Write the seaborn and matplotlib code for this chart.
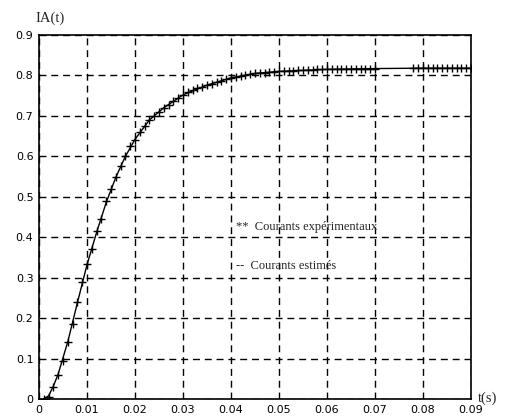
import matplotlib
matplotlib.use("Agg")
import matplotlib.pyplot as plt
import seaborn as sns
import pandas as pd

# Experimental currents (markers)
t_exp = [0.001, 0.002, 0.003, 0.004, 0.005, 0.006, 0.007, 0.008, 0.009, 0.010,
         0.011, 0.012, 0.013, 0.014, 0.015, 0.016, 0.017, 0.018, 0.019, 0.020,
         0.021, 0.022, 0.023, 0.024, 0.025, 0.026, 0.027, 0.028, 0.029, 0.030,
         0.031, 0.032, 0.033, 0.034, 0.035, 0.036, 0.037, 0.038, 0.039, 0.040,
         0.041, 0.042, 0.043, 0.044, 0.045, 0.046, 0.047, 0.048, 0.049, 0.050,
         0.051, 0.052, 0.053, 0.054, 0.055, 0.056, 0.057, 0.058, 0.059, 0.060,
         0.061, 0.062, 0.063, 0.064, 0.065, 0.066, 0.067, 0.068, 0.069, 0.070,
         0.078, 0.079, 0.080, 0.081, 0.082, 0.083, 0.084, 0.085, 0.086, 0.087,
         0.088, 0.089, 0.090]
i_exp = [0.000, 0.005, 0.030, 0.060, 0.095, 0.140, 0.185, 0.240, 0.290, 0.335,
         0.370, 0.415, 0.445, 0.490, 0.520, 0.550, 0.575, 0.600, 0.625, 0.640,
         0.660, 0.675, 0.690, 0.700, 0.710, 0.720, 0.728, 0.737, 0.745, 0.752,
         0.758, 0.763, 0.768, 0.772, 0.776, 0.779, 0.783, 0.786, 0.790, 0.794,
         0.797, 0.799, 0.801, 0.803, 0.805, 0.806, 0.807, 0.808, 0.809, 0.810,
         0.811, 0.812, 0.812, 0.813, 0.813, 0.814, 0.814, 0.815, 0.815, 0.815,
         0.816, 0.816, 0.816, 0.816, 0.817, 0.817, 0.817, 0.817, 0.817, 0.817,
         0.818, 0.818, 0.818, 0.818, 0.818, 0.818, 0.818, 0.818, 0.818, 0.818,
         0.818, 0.818, 0.818]

# Estimated currents (line)
t_est = [0.001, 0.002, 0.003, 0.004, 0.006, 0.008, 0.010, 0.012, 0.014, 0.016,
         0.018, 0.020, 0.023, 0.026, 0.030, 0.035, 0.040, 0.045, 0.050, 0.060,
         0.070, 0.080, 0.090]
i_est = [0.000, 0.008, 0.032, 0.062, 0.142, 0.238, 0.332, 0.412, 0.486, 0.548,
         0.600, 0.642, 0.690, 0.720, 0.752, 0.776, 0.794, 0.805, 0.810, 0.815,
         0.817, 0.818, 0.818]

x_ticks = [0, 0.01, 0.02, 0.03, 0.04, 0.05, 0.06, 0.07, 0.08, 0.09]
x_labels = ["0", "0.01", "0.02", "0.03", "0.04", "0.05", "0.06", "0.07", "0.08", "0.09"]
y_ticks = [0, 0.1, 0.2, 0.3, 0.4, 0.5, 0.6, 0.7, 0.8, 0.9]
y_labels = ["0", "0.1", "0.2", "0.3", "0.4", "0.5", "0.6", "0.7", "0.8", "0.9"]

sns.set_style("white")
plt.rcParams['font.family'] = ['DejaVu Sans']

df_exp = pd.DataFrame({"t": t_exp, "i": i_exp})
df_est = pd.DataFrame({"t": t_est, "i": i_est})

fig = plt.figure(figsize=(5.1, 4.19), dpi=100)
ax = fig.add_axes([0.0765, 0.0477, 0.847, 0.8688])

ax.grid(True, color="black", linestyle=(0, (5, 3.5)), linewidth=1.0)
ax.set_axisbelow(True)

sns.lineplot(data=df_est, x="t", y="i", ax=ax, color="black", linewidth=1.0)
sns.scatterplot(data=df_exp, x="t", y="i", ax=ax, marker="+", color="black",
                s=28, linewidth=1.0, zorder=3)

ax.set_xlim(0, 0.09)
ax.set_ylim(0, 0.9)
ax.set_xticks(x_ticks)
ax.set_xticklabels(x_labels)
ax.set_yticks(y_ticks)
ax.set_yticklabels(y_labels)
ax.tick_params(direction="in", length=4, labelsize=8, colors="black", pad=4)
ax.set_xlabel("")
ax.set_ylabel("")
for s in ax.spines.values():
    s.set_color("black")
    s.set_linewidth(1.2)

ax.text(0.041, 0.425, "**  Courants expérimentaux", family="Liberation Serif",
        fontsize=9, va="center", ha="left")
ax.text(0.041, 0.33, "--  Courants estimés", family="Liberation Serif",
        fontsize=9, va="center", ha="left")

fig.text(35/510, 1 - 18/419, "IA(t)", family="Liberation Serif", fontsize=10.5,
         va="center", ha="left")
fig.text(478/510, 1 - 398/419, "t(s)", family="Liberation Serif", fontsize=10.5,
         va="center", ha="left")

fig.savefig("out.png", dpi=100)
